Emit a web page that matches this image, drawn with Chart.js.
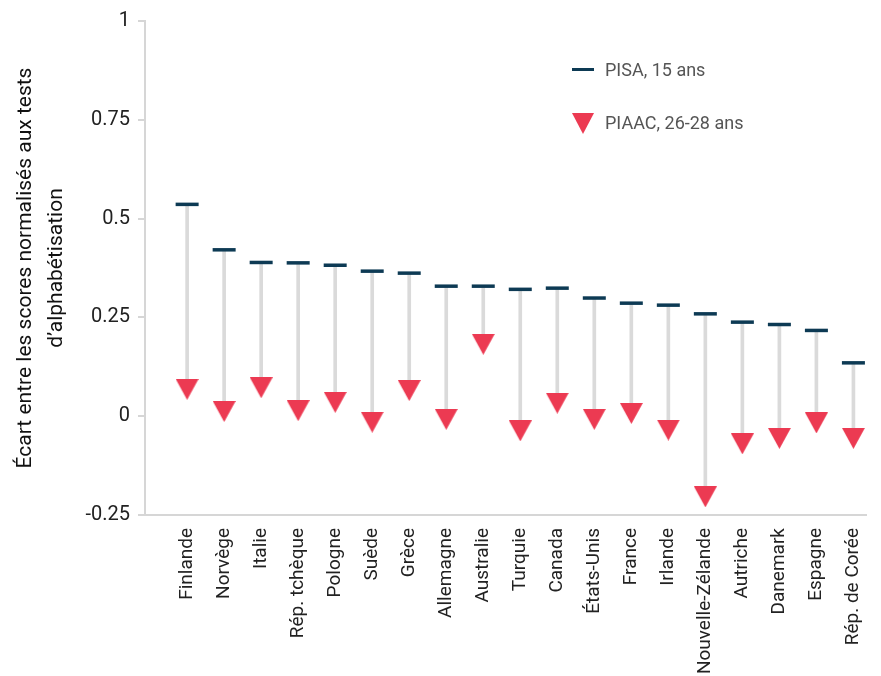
<!DOCTYPE html>
<html>
<head>
<meta charset="utf-8">
<script src="https://cdn.jsdelivr.net/npm/chart.js@4.4.1/dist/chart.umd.min.js"></script>
<style>
  body { margin: 0; background: #fff; }
  #wrap { position: relative; width: 881px; height: 676px; }
  .leg { position: absolute; left: 605px; font-family: Roboto, sans-serif; font-size: 18px; color: #555; line-height: 20px; white-space: nowrap; }
  .dash { position: absolute; left: 572px; top: 68px; width: 22px; height: 3px; background: #0d3a54; }
  .tri { position: absolute; left: 572px; top: 113px; width: 0; height: 0; border-left: 11.5px solid transparent; border-right: 11.5px solid transparent; border-top: 21px solid #ec3a52; }
</style>
</head>
<body>
<div id="wrap">
  <canvas id="chart"></canvas>
  <div class="dash"></div>
  <div class="leg" style="top:60px">PISA, 15 ans</div>
  <div class="tri"></div>
  <div class="leg" style="top:113px">PIAAC, 26-28 ans</div>
</div>
<script>
const countries = ['Finlande', 'Norvège', 'Italie', 'Rép. tchèque', 'Pologne', 'Suède', 'Grèce',
  'Allemagne', 'Australie', 'Turquie', 'Canada', 'États-Unis', 'France', 'Irlande',
  'Nouvelle-Zélande', 'Autriche', 'Danemark', 'Espagne', 'Rép. de Corée'];
const pisa = [0.536, 0.421, 0.389, 0.388, 0.382, 0.367, 0.362, 0.329, 0.329, 0.321, 0.324,
  0.299, 0.286, 0.281, 0.259, 0.238, 0.232, 0.217, 0.135];
const piaac = [0.068, 0.012, 0.072, 0.014, 0.035, -0.015, 0.065, -0.008, 0.182, -0.037, 0.033,
  -0.008, 0.007, -0.035, -0.204, -0.070, -0.056, -0.017, -0.056];
const yTicks = [-0.25, 0, 0.25, 0.5, 0.75, 1];

const navy = '#0d3a54';
const red = '#ec3a52';

// downward triangle, centred on the point
function triangle(w, h, color) {
    const c = document.createElement('canvas');
    c.width = w;
    c.height = h;
    const g = c.getContext('2d');
    g.fillStyle = color;
    g.beginPath();
    g.moveTo(0, 0);
    g.lineTo(w, 0);
    g.lineTo(w / 2, h);
    g.closePath();
    g.fill();
    return c;
}

const ctx = document.getElementById('chart').getContext('2d');
new Chart(ctx, {
    type: 'bar',
    data: {
        datasets: [{
            type: 'line',
            label: 'PISA, 15 ans',
            data: pisa.map((v, i) => ({ x: i, y: v })),
            showLine: false,
            pointStyle: 'line',
            pointRadius: 11.5,
            pointBorderWidth: 3.5,
            pointBorderColor: navy,
            order: 1
        }, {
            type: 'line',
            label: 'PIAAC, 26-28 ans',
            data: piaac.map((v, i) => ({ x: i, y: v })),
            showLine: false,
            pointStyle: triangle(23, 21, red),
            pointRadius: 12,
            order: 0
        }, {
            type: 'bar',
            label: 'écart',
            data: pisa.map((v, i) => ({ x: i, y: [piaac[i], v] })),
            backgroundColor: '#dadada',
            barThickness: 3,
            order: 2
        }]
    },
    options: {
        responsive: true,
        maintainAspectRatio: false,
        animation: false,
        events: [],
        layout: { padding: { top: 21, right: 0, left: 0, bottom: 0 } },
        plugins: {
            legend: { display: false },
            tooltip: { enabled: false }
        },
        scales: {
            x: {
                type: 'linear',
                offset: false,
                min: -1.138,
                max: 18.34,
                grid: { display: false },
                border: { display: true, color: '#d6d6d6', width: 2 },
                afterBuildTicks: (scale) => {
                    scale.ticks = countries.map((_, i) => ({ value: i }));
                },
                afterFit: (scale) => {
                    scale.height = 161;
                    scale.paddingLeft = 0;
                    scale.paddingRight = 0;
                },
                ticks: {
                    autoSkip: false,
                    maxRotation: 90,
                    minRotation: 90,
                    padding: 5,
                    color: '#222',
                    font: { family: 'Roboto', size: 19 },
                    callback: (value) => countries[value]
                }
            },
            y: {
                min: -0.25,
                max: 1,
                grid: { drawOnChartArea: false, color: '#d6d6d6', lineWidth: 2, tickLength: 7 },
                border: { display: true, color: '#d6d6d6', width: 2 },
                afterBuildTicks: (scale) => {
                    scale.ticks = yTicks.map(v => ({ value: v }));
                },
                afterFit: (scale) => {
                    scale.width = 145;
                },
                ticks: {
                    padding: 8,
                    color: '#222',
                    font: { family: 'Roboto', size: 20 },
                    callback: (value) => String(value)
                },
                title: {
                    display: true,
                    text: ['Écart entre les scores normalisés aux tests', 'd\u2019alphabétisation'],
                    color: '#111',
                    font: { family: 'Roboto', size: 21, lineHeight: 1.45 },
                    padding: { top: 11, bottom: 0 }
                }
            }
        }
    }
});
</script>
</body>
</html>
